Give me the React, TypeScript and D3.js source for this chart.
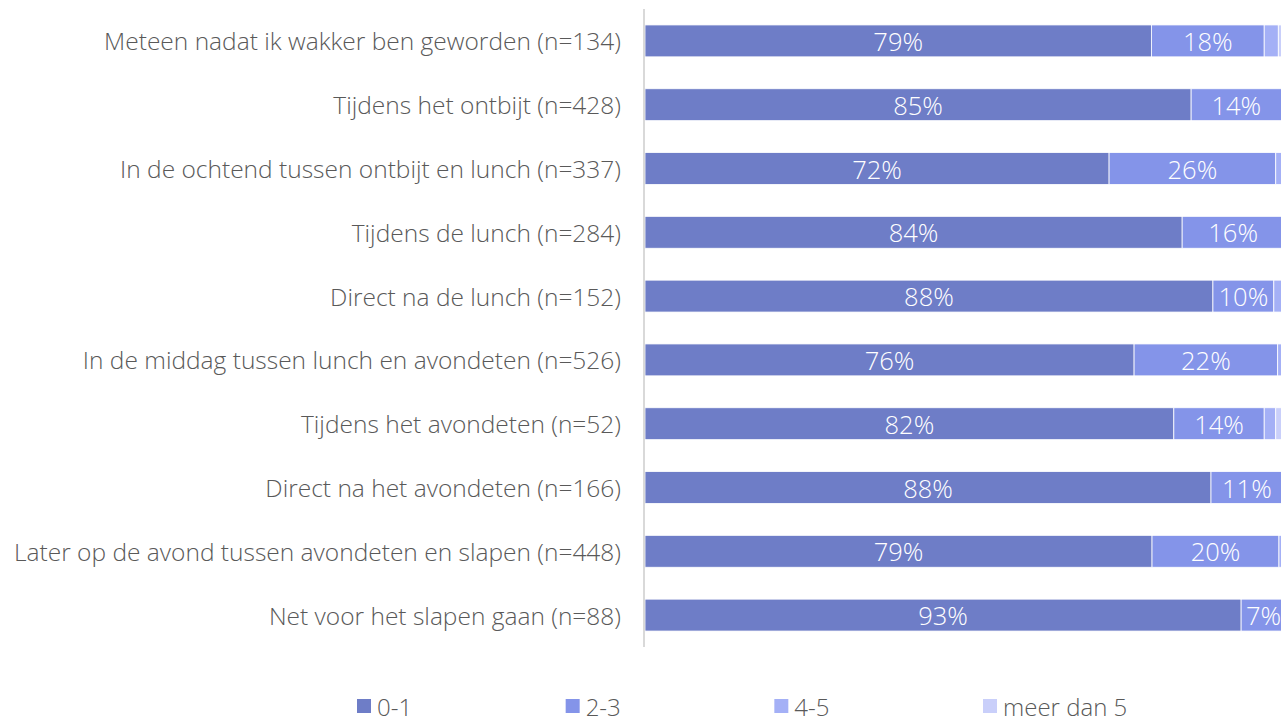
import React from 'react';
import * as d3 from 'd3';

const categories = [
  'Meteen nadat ik wakker ben geworden (n=134)',
  'Tijdens het ontbijt (n=428)',
  'In de ochtend tussen ontbijt en lunch (n=337)',
  'Tijdens de lunch (n=284)',
  'Direct na de lunch (n=152)',
  'In de middag tussen lunch en avondeten (n=526)',
  'Tijdens het avondeten (n=52)',
  'Direct na het avondeten (n=166)',
  'Later op de avond tussen avondeten en slapen (n=448)',
  'Net voor het slapen gaan (n=88)',
];
const seriesNames = ['0-1', '2-3', '4-5', 'meer dan 5'];
const colors = ['#6e7dc7', '#8494e9', '#a4b0f6', '#c9cffa'];

// percentages per series, one value per category
const s01 = [79.0, 85.2, 72.4, 83.8, 88.6, 76.3, 82.5, 88.3, 79.1, 93.0];
const s23 = [17.6, 14.1, 26.0, 15.9, 9.5, 22.4, 14.1, 11.2, 19.8, 7.0];
const s45 = [2.2, 0.5, 1.2, 0.3, 1.5, 1.0, 1.8, 0.4, 0.8, 0];
const s5p = [1.2, 0.2, 0.4, 0, 0.4, 0.3, 1.6, 0.1, 0.3, 0];
// labels shown in the bars (rounded)
const labels01 = ['79%', '85%', '72%', '84%', '88%', '76%', '82%', '88%', '79%', '93%'];
const labels23 = ['18%', '14%', '26%', '16%', '10%', '22%', '14%', '11%', '20%', '7%'];

const W = 1281;
const H = 723;
const FONT = '"Open Sans", "Noto Sans", sans-serif';

export default function App() {
  const y = d3.scaleBand<string>().domain(categories).range([9, 647]).paddingInner(0.5).paddingOuter(0.25);
  const x = d3.scaleLinear().domain([0, 100]).range([645, 1286]);

  const rows = categories.map((c, i) => ({
    cat: c,
    values: [s01[i], s23[i], s45[i], s5p[i]],
    labels: [labels01[i], labels23[i], '', ''],
  }));

  const legendX = d3.scalePoint<string>().domain(seriesNames).range([357, 983]);

  return (
    <svg width={W} height={H} style={{ position: 'absolute', left: 0, top: 0, background: '#fff' }}>
      {rows.map((r) => {
        let acc = 0;
        return (
          <g key={r.cat}>
            <text
              x={621}
              y={(y(r.cat) as number) + y.bandwidth() / 2}
              textAnchor="end"
              dominantBaseline="central"
              fontFamily={FONT}
              fontSize={24.5}
              fontWeight={300}
              fill="#595959"
            >
              {r.cat}
            </text>
            {r.values.map((v, k) => {
              const x0 = x(acc);
              acc += v;
              const x1 = x(acc);
              if (v <= 0) return null;
              return (
                <g key={k}>
                  <rect
                    x={x0}
                    y={y(r.cat)}
                    width={x1 - x0}
                    height={y.bandwidth()}
                    fill={colors[k]}
                    stroke="#fff"
                    strokeWidth={0.8}
                  />
                  {r.labels[k] && (
                    <text
                      x={(x0 + x1) / 2}
                      y={(y(r.cat) as number) + y.bandwidth() / 2}
                      textAnchor="middle"
                      dominantBaseline="central"
                      fontFamily={FONT}
                      fontSize={25.5}
                      fontWeight={300}
                      fill="#fff"
                    >
                      {r.labels[k]}
                    </text>
                  )}
                </g>
              );
            })}
          </g>
        );
      })}
      <line x1={644} x2={644} y1={9} y2={647} stroke="#d9d9d9" strokeWidth={2} />
      {seriesNames.map((s, k) => (
        <g key={s} transform={`translate(${legendX(s)},698)`}>
          <rect x={0} y={1} width={14} height={14} fill={colors[k]} />
          <text x={20} y={8} dominantBaseline="central" fontFamily={FONT} fontSize={24} fontWeight={300} fill="#595959">
            {s}
          </text>
        </g>
      ))}
    </svg>
  );
}
